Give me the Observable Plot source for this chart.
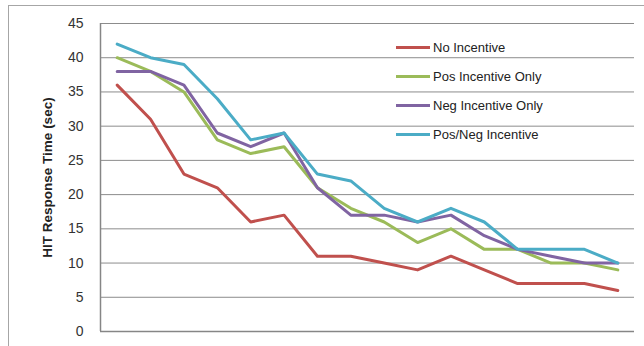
<!DOCTYPE html>
<html>
<head>
<meta charset="utf-8">
<script src="https://cdn.jsdelivr.net/npm/d3@7"></script>
<script src="https://cdn.jsdelivr.net/npm/@observablehq/plot@0.6"></script>
<style>
  html, body { margin: 0; padding: 0; background: #fff; }
  #wrap { position: relative; width: 644px; height: 346px; overflow: hidden; }
  #border { position: absolute; left: 8px; top: 5px; width: 660px; height: 360px; border: 1px solid #a6a6a6; box-sizing: border-box; }
  #chart { position: absolute; left: 0; top: 0; }
  #legend { position: absolute; left: 396px; top: 0; font: 13px "Liberation Sans", Arial, sans-serif; color: #222; }
  .item { position: absolute; left: 0; display: flex; align-items: center; white-space: nowrap; }
  .swatch { width: 34px; height: 3px; margin-right: 3px; }
</style>
</head>
<body>
<div id="wrap">
  <div id="border"></div>
  <div id="chart"></div>
  <div id="legend"></div>
</div>
<script>
// Response time for each of 16 successive HITs, per incentive condition
const seriesNames = ["No Incentive", "Pos Incentive Only", "Neg Incentive Only", "Pos/Neg Incentive"];
const seriesColors = ["#C0504D", "#9BBB59", "#8064A2", "#4BACC6"];
const noIncentive  = [36, 31, 23, 21, 16, 17, 11, 11, 10, 9, 11, 9, 7, 7, 7, 6];
const posOnly      = [40, 38, 35, 28, 26, 27, 21, 18, 16, 13, 15, 12, 12, 10, 10, 9];
const negOnly      = [38, 38, 36, 29, 27, 29, 21, 17, 17, 16, 17, 14, 12, 11, 10, 10];
const posNeg       = [42, 40, 39, 34, 28, 29, 23, 22, 18, 16, 18, 16, 12, 12, 12, 10];
const yTicks = [0, 5, 10, 15, 20, 25, 30, 35, 40, 45];

const allSeries = [noIncentive, posOnly, negOnly, posNeg];
const rows = allSeries.flatMap((vals, s) =>
  vals.map((v, i) => ({series: seriesNames[s], index: i, value: v})));

const chart = Plot.plot({
  width: 644,
  height: 346,
  marginLeft: 100,
  marginRight: 10,
  marginTop: 23,
  marginBottom: 15,
  style: {fontFamily: "'Liberation Sans', Arial, sans-serif", background: "transparent"},
  x: {domain: [-0.5, 15.5], axis: null},
  y: {domain: [0, 45], axis: null},
  color: {domain: seriesNames, range: seriesColors},
  marks: [
    Plot.ruleY(yTicks.filter(d => d > 0), {stroke: "#8c8c8c", strokeWidth: 1}),
    Plot.ruleY([0], {stroke: "#868686", strokeWidth: 1.5}),
    Plot.ruleX([-0.5], {stroke: "#868686", strokeWidth: 1.5}),
    Plot.axisY(yTicks, {tickSize: 0, tickPadding: 17, fontSize: 14, fill: "#333", label: null}),
    Plot.text(["HIT Response Time (sec)"], {
      frameAnchor: "left", textAnchor: "middle", dx: -53, rotate: -90,
      fontSize: 13.5, fontWeight: "bold", fill: "#222"
    }),
    Plot.line(rows, {x: "index", y: "value", z: "series", stroke: "series", strokeWidth: 3, strokeLinejoin: "round"})
  ]
});
document.getElementById("chart").appendChild(chart);

// legend
const legend = document.getElementById("legend");
const legendTops = [47.5, 76.5, 105.5, 134];
seriesNames.forEach((name, i) => {
  const item = document.createElement("div");
  item.className = "item";
  item.style.top = (legendTops[i] - 8) + "px";
  item.style.height = "16px";
  const sw = document.createElement("span");
  sw.className = "swatch";
  sw.style.background = seriesColors[i];
  const label = document.createElement("span");
  label.textContent = name;
  item.appendChild(sw);
  item.appendChild(label);
  legend.appendChild(item);
});
</script>
</body>
</html>
